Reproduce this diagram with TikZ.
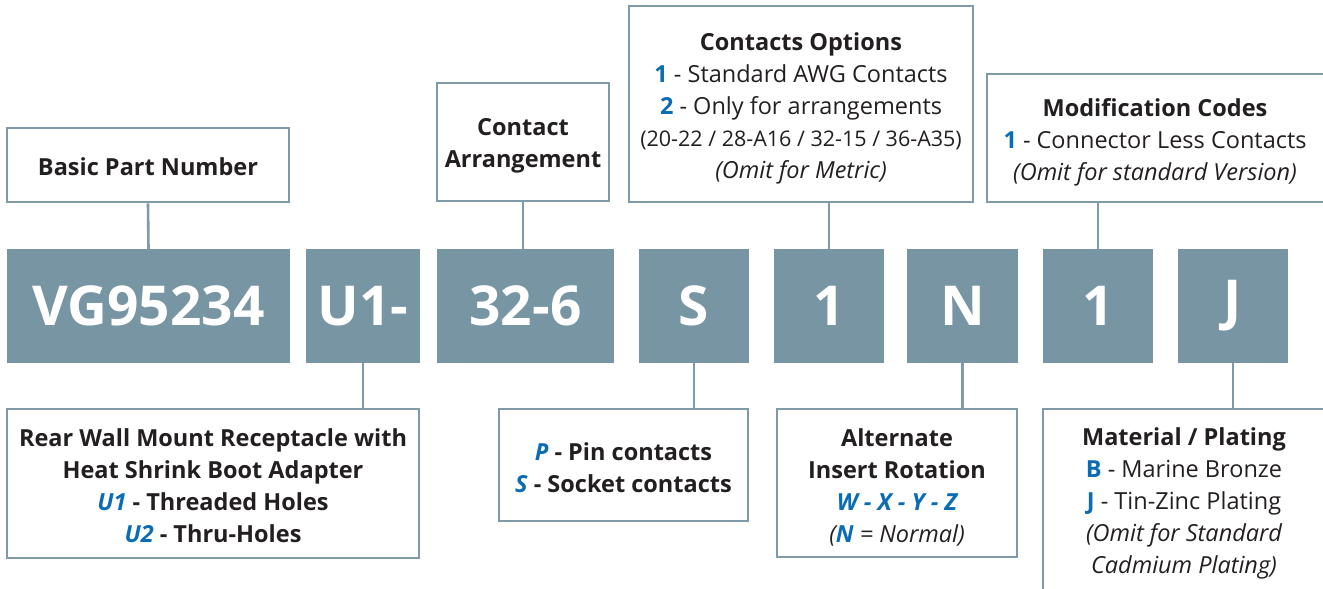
\documentclass[tikz,border=0pt]{standalone}
\usepackage{fontspec}
\setmainfont{Open Sans}
\definecolor{steel}{HTML}{7895A3}
\definecolor{edge}{HTML}{7F9AA8}
\definecolor{pblue}{HTML}{0B6CB6}
\definecolor{ink}{HTML}{231F20}
\newcommand\bl[1]{\textcolor{pblue}{#1}}
\begin{document}
\begin{tikzpicture}[x=1pt,y=-1pt,
  outbox/.style={draw=edge, line width=2.6pt, fill=white, inner sep=0pt},
  label text/.style={inner sep=0pt, align=center, text=ink, font=\fontsize{23.5}{32}\selectfont},
  code/.style={fill=steel, inner sep=0pt, text=white, minimum height=114pt,
     font=\fontsize{55}{55}\selectfont\bfseries},
  link/.style={draw=edge, line width=2.6pt}]
\clip (0,0) rectangle (1323,589);
\useasboundingbox (0,0) rectangle (1323,589);
% code boxes
\node[code, minimum width=283pt] (vg) at (148.5,306) {VG95234};
\node[code, minimum width=114pt] (u1) at (363,306) {U1-};
\node[code, minimum width=177pt] (ar) at (525.5,306) {32-6};
\node[code, minimum width=110pt] (s) at (694,306) {S};
\node[code, minimum width=110pt] (one) at (829,306) {1};
\node[code, minimum width=111pt] (n) at (962.5,306) {N};
\node[code, minimum width=110pt] (mod) at (1098,306) {1};
\node[code, minimum width=110pt] (j) at (1233,306) {J};
% top boxes
\node[outbox, minimum width=282pt, minimum height=74pt] (bpn) at (148,165) {};
\node[label text] (bpnt) at (148,167) {\bfseries Basic Part Number};
\node[outbox, minimum width=172pt, minimum height=118pt] (ca) at (523,142) {};
\node[label text] (cat) at (523,146) {\bfseries Contact\\\bfseries Arrangement};
\node[outbox, minimum width=344pt, minimum height=196pt] (co) at (801,104) {};
\node[label text] (cot) at (801,108.5)
  {\bfseries Contacts Options\\
   \bl{\bfseries 1} - Standard AWG Contacts\\
   \bl{\bfseries 2} - Only for arrangements\\
   {\fontsize{21.5}{32}\selectfont (20-22 / 28-A16 / 32-15 / 36-A35)}\\
   \itshape (Omit for Metric)};
\node[outbox, minimum width=339pt, minimum height=128pt] (mc) at (1156.5,138) {};
\node[label text] (mct) at (1155,142)
  {\bfseries Modification Codes\\
   \bl{\bfseries 1} - Connector Less Contacts\\
   \itshape (Omit for standard Version)};
% bottom boxes
\node[outbox, minimum width=412pt, minimum height=149pt] (rw) at (213,483.5) {};
\node[label text, font=\fontsize{23.5}{32}\selectfont\bfseries] (rwt) at (213,486)
  {Rear Wall Mount Receptacle with\\
   Heat Shrink Boot Adapter\\
   \bl{\itshape U1} - Threaded Holes\\
   \bl{\itshape U2} - Thru-Holes};
\node[outbox, minimum width=249pt, minimum height=112pt] (ps) at (623.5,465) {};
\node[label text, font=\fontsize{23.5}{32}\selectfont\bfseries] (pst) at (623.5,467.5)
  {\bl{\itshape P} - Pin contacts\\
   \bl{\itshape S} - Socket contacts};
\node[outbox, minimum width=240pt, minimum height=148pt] (alt) at (897,483) {};
\node[label text] (altt) at (897,487)
  {\bfseries Alternate\\
   \bfseries Insert Rotation\\
   \bl{\bfseries\itshape W - X - Y - Z}\\
   \itshape (\bl{\bfseries N} = Normal)};
\node[outbox, minimum width=283pt, minimum height=186pt] (mp) at (1184.5,502) {};
\node[label text] (mpt) at (1184,503.5)
  {\bfseries Material / Plating\\
   \bl{\bfseries B} - Marine Bronze\\
   \bl{\bfseries J} - Tin-Zinc Plating\\
   \itshape (Omit for Standard\\
   \itshape Cadmium Plating)};
% connectors
\draw[link] (bpn.south) -- (vg.north);
\draw[link] (ca.south) -- (ca.south |- ar.north);
\draw[link] (one.north) -- (one.north |- co.south);
\draw[link] (mod.north) -- (mod.north |- mc.south);
\draw[link] (u1.south) -- (u1.south |- rw.north);
\draw[link] (s.south) -- (s.south |- ps.north);
\draw[link] (n.south) -- (n.south |- alt.north);
\draw[link] (j.south) -- (j.south |- mp.north);
\end{tikzpicture}
\end{document}
